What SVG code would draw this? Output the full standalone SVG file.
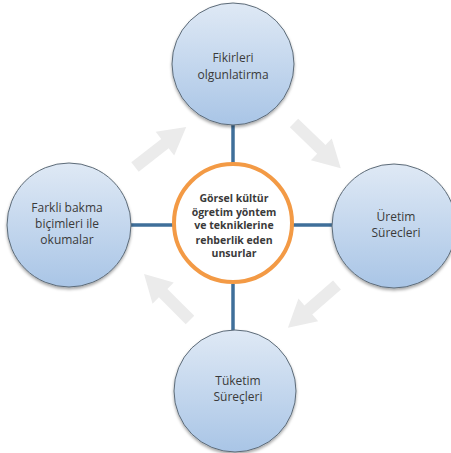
<svg xmlns="http://www.w3.org/2000/svg" width="451" height="453" viewBox="0 0 451 453">
<defs>
<linearGradient id="bg" x1="0" y1="0" x2="0" y2="1">
<stop offset="0" stop-color="#dfe9f5"/>
<stop offset="1" stop-color="#a9c5e6"/>
</linearGradient>
<filter id="sh" x="-20%" y="-20%" width="140%" height="140%">
<feDropShadow dx="0" dy="2" stdDeviation="1.5" flood-color="#000" flood-opacity="0.35"/>
</filter>
<path id="arr" d="M0,-6 L38,-6 L38,-15 L65,0 L38,15 L38,6 L0,6 Z"/>
</defs>
<style>
.outer{fill:url(#bg);stroke:#5d6b78;stroke-width:1;filter:url(#sh)}
.lbl{font-family:"Open Sans","Liberation Sans",sans-serif;font-size:12px;fill:#3a3a3a;text-anchor:middle}
.clbl{font-family:"Open Sans","Liberation Sans",sans-serif;font-size:10.5px;font-weight:bold;fill:#3a3a3a;text-anchor:middle}
.conn{stroke:#3f6f9a;stroke-width:3.5;fill:none}
.garr{fill:#ebebeb}
</style>
<g id="cycle-arrows">
<use href="#arr" class="garr" transform="translate(135,167) rotate(-38)"/>
<use href="#arr" class="garr" transform="translate(294,123) rotate(44)"/>
<use href="#arr" class="garr" transform="translate(337,285) rotate(139)"/>
<use href="#arr" class="garr" transform="translate(190,320) rotate(-135)"/>
</g>
<g id="connectors">
<line class="conn" x1="233" y1="125" x2="233" y2="164"/>
<line class="conn" x1="233" y1="284" x2="233" y2="331"/>
<line class="conn" x1="131" y1="225" x2="173" y2="225"/>
<line class="conn" x1="293" y1="225" x2="333" y2="225"/>
</g>
<g id="top">
<circle class="outer" cx="233" cy="64" r="61"/>
<text class="lbl" x="233" y="62">Fikirleri</text>
<text class="lbl" x="233" y="79">olgunlatirma</text>
</g>
<g id="left">
<circle class="outer" cx="69" cy="225" r="62"/>
<text class="lbl" x="67" y="212">Farkli bakma</text>
<text class="lbl" x="67" y="228">biçimleri ile</text>
<text class="lbl" x="67" y="244">okumalar</text>
</g>
<g id="right">
<circle class="outer" cx="394" cy="226" r="62"/>
<text class="lbl" x="396" y="221">Üretim</text>
<text class="lbl" x="396" y="237">Sürecleri</text>
</g>
<g id="bottom">
<circle class="outer" cx="235" cy="391" r="61"/>
<text class="lbl" x="238" y="385">Tüketim</text>
<text class="lbl" x="238" y="401">Süreçleri</text>
</g>
<g id="center">
<circle cx="233" cy="223" r="59" fill="#ffffff" stroke="#f39a45" stroke-width="4"/>
<text class="clbl" x="234" y="202">Görsel kültür</text>
<text class="clbl" x="234" y="216">ögretim yöntem</text>
<text class="clbl" x="234" y="229">ve tekniklerine</text>
<text class="clbl" x="234" y="244">rehberlik eden</text>
<text class="clbl" x="234" y="257">unsurlar</text>
</g>
</svg>
